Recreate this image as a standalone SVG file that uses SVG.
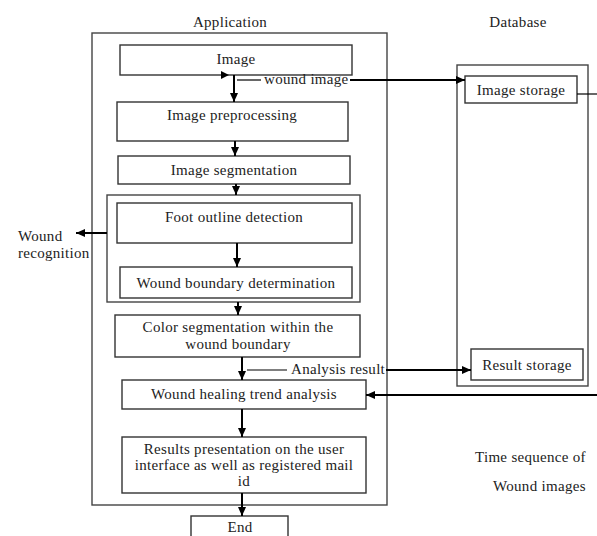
<svg xmlns="http://www.w3.org/2000/svg" width="597" height="536" viewBox="0 0 597 536">
<style>
text{font-family:"Liberation Serif","Times New Roman",serif;font-size:15px;letter-spacing:0.3px;fill:#222}
.box{fill:#fff;stroke:#333;stroke-width:1.4}
.frame{fill:none;stroke:#444;stroke-width:1.4}
.c{stroke:#000;stroke-width:2;fill:none}
.t{stroke:#000;stroke-width:1.2;fill:none}
.m{text-anchor:middle}
</style>
<defs>
<marker id="ah" markerUnits="userSpaceOnUse" markerWidth="10" markerHeight="10" refX="9" refY="5" orient="auto">
<path d="M0,1 L9,5 L0,9 Z" fill="#000"/>
</marker>
</defs>
<rect width="597" height="536" fill="#fff"/>

<g id="application">
<text x="230" y="27" class="m">Application</text>
<rect class="frame" x="92" y="33" width="295" height="472"/>
</g>
<g id="database">
<text x="518" y="27" class="m">Database</text>
<rect class="frame" x="457" y="65" width="131" height="321"/>
</g>

<g id="image"><rect class="box" x="120" y="45" width="232" height="30"/><text x="236" y="64" class="m">Image</text></g>
<g id="preprocessing"><rect class="box" x="117" y="102" width="231" height="39"/><text x="232" y="120" class="m">Image preprocessing</text></g>
<g id="segmentation"><rect class="box" x="118" y="156" width="232" height="28"/><text x="234" y="175" class="m">Image segmentation</text></g>
<g id="wound-recognition-group"><rect class="frame" x="107" y="195" width="253" height="107"/></g>
<g id="foot-outline"><rect class="box" x="117" y="203" width="235" height="40"/><text x="234" y="222" class="m">Foot outline detection</text></g>
<g id="wound-boundary"><rect class="box" x="120" y="267" width="232" height="31"/><text x="236" y="288" class="m">Wound boundary determination</text></g>
<g id="color-segmentation"><rect class="box" x="115" y="315" width="245" height="42"/><text x="238" y="332" class="m">Color segmentation within the</text><text x="238" y="349" class="m">wound boundary</text></g>
<g id="healing-trend"><rect class="box" x="122" y="380" width="244" height="29"/><text x="244" y="399" class="m">Wound healing trend analysis</text></g>
<g id="results-presentation"><rect class="box" x="122" y="437" width="244" height="56"/><text x="244" y="454" class="m">Results presentation on the user</text><text x="244" y="470" class="m">interface as well as registered mail</text><text x="244" y="486" class="m">id</text></g>
<g id="end"><rect class="box" x="191" y="516" width="97" height="24"/><text x="240" y="532" class="m">End</text></g>
<g id="image-storage"><rect class="box" x="465" y="76" width="112" height="27"/><text x="521" y="95" class="m">Image storage</text></g>
<g id="result-storage"><rect class="box" x="471" y="349" width="112" height="31"/><text x="527" y="370" class="m">Result storage</text></g>
<g id="wound-recognition-label"><text x="18" y="241">Wound</text><text x="18" y="258">recognition</text></g>
<g id="time-sequence-label"><text x="475" y="462">Time sequence of</text><text x="493" y="491">Wound images</text></g>

<g id="connectors">
<line class="c" x1="234" y1="75" x2="234" y2="102" marker-end="url(#ah)"/>
<path d="M221,71 L229,75 L221,79 Z" fill="#000"/>
<line class="t" x1="237" y1="80" x2="261" y2="80"/>
<text x="264" y="84">wound image</text>
<line class="c" x1="350" y1="80" x2="465" y2="80" marker-end="url(#ah)"/>
<line class="c" x1="235" y1="141" x2="235" y2="156" marker-end="url(#ah)"/>
<line class="c" x1="236" y1="184" x2="236" y2="195" marker-end="url(#ah)"/>
<line class="c" x1="237" y1="243" x2="237" y2="267" marker-end="url(#ah)"/>
<line class="c" x1="238" y1="302" x2="238" y2="315" marker-end="url(#ah)"/>
<line class="c" x1="107" y1="233" x2="76" y2="233" marker-end="url(#ah)"/>
<line class="c" x1="242" y1="357" x2="242" y2="380" marker-end="url(#ah)"/>
<line class="t" x1="247" y1="370" x2="287" y2="370"/>
<text x="291" y="374">Analysis result</text>
<line class="c" x1="386" y1="370" x2="471" y2="370" marker-end="url(#ah)"/>
<line class="t" x1="577" y1="94" x2="597" y2="94"/>
<line class="c" x1="597" y1="395" x2="366" y2="395" marker-end="url(#ah)"/>
<line class="c" x1="242" y1="409" x2="242" y2="437" marker-end="url(#ah)"/>
<line class="c" x1="242" y1="493" x2="242" y2="516" marker-end="url(#ah)"/>
</g>
</svg>
